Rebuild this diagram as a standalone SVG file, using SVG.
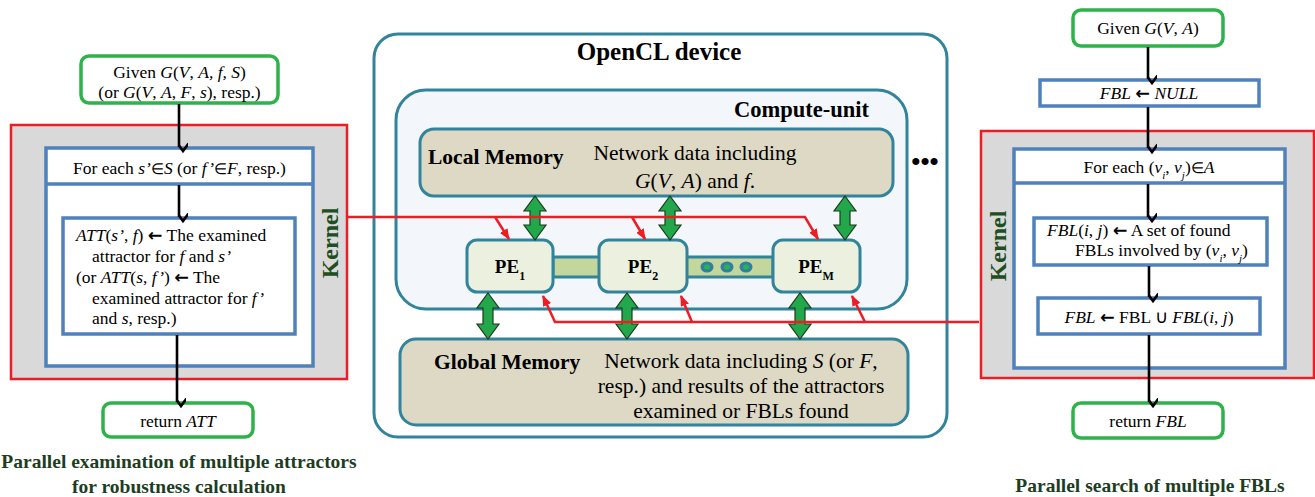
<svg xmlns="http://www.w3.org/2000/svg" width="1315" height="497" viewBox="0 0 1315 497" font-family="Liberation Serif, serif">
  <style>
    text { font-family: 'Liberation Serif', 'Times New Roman', Times, serif; fill: #000; }
    .s { font-size: 17.5px; }
    .m { font-size: 21.5px; }
    .b { font-weight: bold; }
    .i { font-style: italic; }
    .mid { text-anchor: middle; }
    .ar { font-family: 'DejaVu Sans', sans-serif; font-weight: bold; font-style: normal; }
    .el { font-size: 14.5px; font-style: normal; }
    .cap { font-size: 19.5px; font-weight: bold; fill: #1e3d1f; }
    .kern { font-size: 24px; font-weight: bold; fill: #1f4e21; }
    .green { fill: #fff; stroke: #2db34a; stroke-width: 3.5; }
    .blue { fill: #fff; stroke: #4f81bd; stroke-width: 3.5; }
    .kbox { fill: #d9d9d9; stroke: #ee1c24; stroke-width: 2.5; }
    .teal { stroke: #31849b; stroke-width: 3; }
    .mem { fill: #ddd9c4; }
    .pe { fill: #ebf1de; }
    .dbl { fill: #22a84a; stroke: #1d3b1d; stroke-width: 1.2; }
    .flow { stroke: #000; stroke-width: 2.6; fill: none; marker-end: url(#open); }
    .redh { stroke: #ee1c24; stroke-width: 2.5; fill: none; marker-end: url(#rh); }
  </style>
  <defs>
    <marker id="open" viewBox="0 0 14 10" refX="7" refY="9" markerWidth="14" markerHeight="10" markerUnits="userSpaceOnUse" orient="auto-start-reverse">
      <path d="M1.5,1.5 L7,9 L12.5,1.5" fill="none" stroke="#000" stroke-width="2.6" transform="rotate(-90 7 5)"/>
    </marker>
    <marker id="rh" viewBox="0 0 10 8" refX="9" refY="4" markerWidth="11" markerHeight="9" markerUnits="userSpaceOnUse" orient="auto">
      <path d="M0,0 L10,4 L0,8 z" fill="#ee1c24"/>
    </marker>
  </defs>

  <rect width="1315" height="497" fill="#fff"/>

  <!-- left flow: attractor examination -->
  <g id="left-kernel">
    <rect class="kbox" x="11" y="125" width="336" height="254"/>
    <text class="kern mid" transform="translate(338 243) rotate(-90)">Kernel</text>
  </g>
  <g id="left-given">
    <rect class="green" x="81" y="56" width="197" height="47" rx="8"/>
    <text class="s mid" x="179.5" y="78">Given <tspan class="i">G</tspan>(<tspan class="i">V</tspan>, <tspan class="i">A, f, S</tspan>)</text>
    <text class="s mid" x="179.5" y="98">(or <tspan class="i">G</tspan>(<tspan class="i">V</tspan>, <tspan class="i">A</tspan>, <tspan class="i">F</tspan>,  <tspan class="i">s</tspan>), resp.)</text>
  </g>
  <g id="left-loop">
    <rect class="blue" x="46" y="148" width="267" height="218"/>
    <line x1="46" y1="184" x2="313" y2="184" stroke="#4f81bd" stroke-width="3.5"/>
    <text class="s mid" x="179.5" y="174">For each  <tspan class="i">s’</tspan><tspan class="el">∈</tspan><tspan class="i">S</tspan> (or <tspan class="i">f’</tspan><tspan class="el">∈</tspan><tspan class="i">F</tspan>,  resp.)</text>
  </g>
  <g id="left-body">
    <rect class="blue" x="63" y="218" width="232" height="116"/>
    <text class="s" x="76" y="241"><tspan class="i">ATT</tspan>(<tspan class="i">s’</tspan>, <tspan class="i">f</tspan>) <tspan class="ar">←</tspan> The examined</text>
    <text class="s" x="92" y="262">attractor  for <tspan class="i">f</tspan> and <tspan class="i">s’</tspan></text>
    <text class="s" x="76" y="283">(or <tspan class="i">ATT</tspan>(<tspan class="i">s</tspan>, <tspan class="i">f’</tspan>) <tspan class="ar">←</tspan> The</text>
    <text class="s" x="92" y="304">examined  attractor  for <tspan class="i">f’</tspan></text>
    <text class="s" x="92" y="324">and <tspan class="i">s</tspan>, resp.)</text>
  </g>
  <g id="left-return">
    <rect class="green" x="103" y="403" width="150" height="34" rx="8"/>
    <text class="s mid" x="178" y="427">return <tspan class="i">ATT</tspan></text>
  </g>
  <g id="left-caption">
    <text class="cap mid" x="179" y="468">Parallel examination of multiple attractors</text>
    <text class="cap mid" x="179" y="493">for robustness calculation</text>
  </g>

  <!-- OpenCL device -->
  <g id="device">
    <rect class="teal" x="374" y="34" width="573" height="403" rx="24" fill="#fff"/>
    <text class="b mid" x="659" y="60" font-size="25">OpenCL device</text>
    <text class="b mid" x="925" y="170" font-size="26">•••</text>
  </g>
  <g id="compute-unit">
    <rect class="teal" x="396" y="90" width="511" height="219" rx="30" fill="#f3f6fa"/>
    <text class="b" x="869" y="117" font-size="22.5" text-anchor="end">Compute-unit</text>
  </g>
  <g id="local-memory">
    <rect class="teal mem" x="420" y="129" width="473" height="67" rx="14"/>
    <text class="m b" x="428" y="164">Local Memory</text>
    <text class="m mid" x="695" y="160">Network data including</text>
    <text class="m mid" x="695" y="188"><tspan class="i">G</tspan>(<tspan class="i">V</tspan>, <tspan class="i">A</tspan>) and <tspan class="i">f</tspan>.</text>
  </g>
  <g id="global-memory">
    <rect class="teal mem" x="400" y="339" width="508" height="86" rx="16"/>
    <text class="m b" x="434" y="369">Global Memory</text>
    <text class="m mid" x="741" y="368">Network data including <tspan class="i">S</tspan> (or <tspan class="i">F</tspan>,</text>
    <text class="m mid" x="741" y="393">resp.) and results of the attractors</text>
    <text class="m mid" x="741" y="418">examined or FBLs found</text>
  </g>
  <g id="bus">
    <rect class="teal" x="553" y="257" width="220" height="20" fill="#c3d69b"/>
    <ellipse cx="707" cy="267" rx="6.5" ry="5.5" fill="#2f7fa6"/>
    <ellipse cx="727" cy="267" rx="6.5" ry="5.5" fill="#2f7fa6"/>
    <ellipse cx="746" cy="267" rx="6.5" ry="5.5" fill="#2f7fa6"/>
    <ellipse cx="707" cy="267" rx="3" ry="2.5" fill="#2db34a"/>
    <ellipse cx="727" cy="267" rx="3" ry="2.5" fill="#2db34a"/>
    <ellipse cx="746" cy="267" rx="3" ry="2.5" fill="#2db34a"/>
  </g>
  <g id="pe1">
    <rect class="teal pe" x="467" y="240" width="86" height="52" rx="10"/>
    <text class="b mid" x="510" y="273" font-size="19">PE<tspan font-size="12" baseline-shift="sub">1</tspan></text>
  </g>
  <g id="pe2">
    <rect class="teal pe" x="599" y="240" width="88" height="52" rx="10"/>
    <text class="b mid" x="643" y="273" font-size="19">PE<tspan font-size="12" baseline-shift="sub">2</tspan></text>
  </g>
  <g id="pem">
    <rect class="teal pe" x="773" y="240" width="87" height="52" rx="10"/>
    <text class="b mid" x="816" y="273" font-size="19">PE<tspan font-size="12" baseline-shift="sub">M</tspan></text>
  </g>

  <!-- right flow: FBL search -->
  <g id="right-given">
    <rect class="green" x="1073" y="10" width="150" height="36" rx="8"/>
    <text class="s mid" x="1148" y="34">Given <tspan class="i">G</tspan>(<tspan class="i">V</tspan>, <tspan class="i">A</tspan>)</text>
  </g>
  <g id="right-init">
    <rect class="blue" x="1040" y="80" width="219" height="26"/>
    <text class="s mid" x="1149" y="99"><tspan class="i">FBL</tspan> <tspan class="ar">←</tspan> <tspan class="i">NULL</tspan></text>
  </g>
  <g id="right-kernel">
    <rect class="kbox" x="981" y="131" width="333" height="247"/>
    <text class="kern mid" transform="translate(1006 246) rotate(-90)">Kernel</text>
  </g>
  <g id="right-loop">
    <rect class="blue" x="1014" y="149" width="271" height="219"/>
    <line x1="1014" y1="183" x2="1285" y2="183" stroke="#4f81bd" stroke-width="3.5"/>
    <text class="s mid" x="1149" y="173">For each  (<tspan class="i">v<tspan font-size="11" baseline-shift="sub">i</tspan></tspan>, <tspan class="i">v<tspan font-size="11" baseline-shift="sub">j</tspan></tspan>)<tspan class="el">∈</tspan><tspan class="i">A</tspan></text>
  </g>
  <g id="right-found">
    <rect class="blue" x="1034" y="218" width="233" height="47"/>
    <text class="s" x="1047" y="236"><tspan class="i">FBL</tspan>(<tspan class="i">i</tspan>, <tspan class="i">j</tspan>) <tspan class="ar">←</tspan> A set of found</text>
    <text class="s" x="1075" y="256">FBLs involved by (<tspan class="i">v<tspan font-size="11" baseline-shift="sub">i</tspan></tspan>, <tspan class="i">v<tspan font-size="11" baseline-shift="sub">j</tspan></tspan>)</text>
  </g>
  <g id="right-union">
    <rect class="blue" x="1038" y="298" width="222" height="36"/>
    <text class="s mid" x="1149" y="323"><tspan class="i">FBL</tspan> <tspan class="ar">←</tspan> FBL ∪  <tspan class="i">FBL</tspan>(<tspan class="i">i</tspan>, <tspan class="i">j</tspan>)</text>
  </g>
  <g id="right-return">
    <rect class="green" x="1073" y="403" width="150" height="35" rx="8"/>
    <text class="s mid" x="1148" y="427">return <tspan class="i">FBL</tspan></text>
  </g>
  <g id="right-caption">
    <text class="cap mid" x="1150" y="492">Parallel search of multiple FBLs</text>
  </g>

  <!-- connectors -->
  <g id="connectors">
    <!-- control flow -->
    <line class="flow" x1="179" y1="104" x2="179" y2="147"/>
    <line class="flow" x1="179" y1="185" x2="179" y2="217"/>
    <line class="flow" x1="177" y1="335" x2="177" y2="402"/>
    <line class="flow" x1="1148" y1="47" x2="1148" y2="79"/>
    <line class="flow" x1="1148" y1="107" x2="1148" y2="148"/>
    <line class="flow" x1="1148" y1="184" x2="1148" y2="217"/>
    <line class="flow" x1="1149" y1="266" x2="1149" y2="297"/>
    <line class="flow" x1="1149" y1="335" x2="1149" y2="402"/>

    <!-- memory transfers -->
    <polygon class="dbl" points="535,196 546,211 540,211 540,225 546,225 535,240 524,225 530,225 530,211 524,211"/>
    <polygon class="dbl" points="670,196 681,211 675,211 675,225 681,225 670,240 659,225 665,225 665,211 659,211"/>
    <polygon class="dbl" points="845,196 856,211 850,211 850,225 856,225 845,240 834,225 840,225 840,211 834,211"/>
    <polygon class="dbl" points="488,293 499,308 493,308 493,324 499,324 488,339 477,324 483,324 483,308 477,308"/>
    <polygon class="dbl" points="627,293 638,308 632,308 632,324 638,324 627,339 616,324 622,324 622,308 616,308"/>
    <polygon class="dbl" points="800,293 811,308 805,308 805,324 811,324 800,339 789,324 795,324 795,308 789,308"/>

    <!-- kernel dispatch to processing elements -->
    <path class="redh" d="M347,217 H805 L818,239"/>
    <path class="redh" d="M495,217 L509,239"/>
    <path class="redh" d="M632,217 L645,239"/>
    <path class="redh" d="M979,322 H555 L543,296"/>
    <path class="redh" d="M692,322 L681,296"/>
    <path class="redh" d="M865,322 L852,296"/>
  </g>
</svg>
